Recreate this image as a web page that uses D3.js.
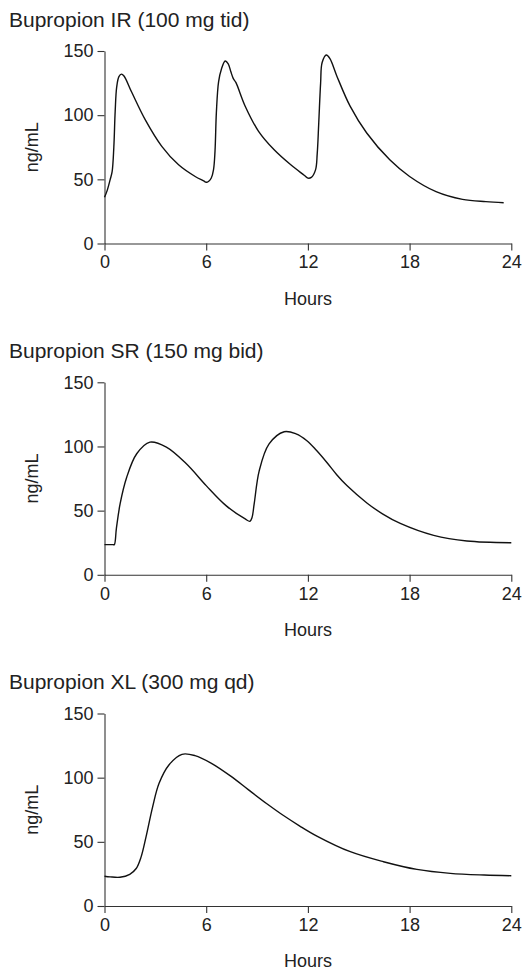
<!DOCTYPE html>
<html>
<head>
<meta charset="utf-8">
<script src="https://cdn.jsdelivr.net/npm/d3@7"></script>
<style>
  body { margin: 0; background: #fff; }
  svg { display: block; font-family: "Liberation Sans", Arial, Helvetica, sans-serif; }
  .tick text { font-size: 18px; fill: #222; }
  .domain, .tick line { stroke: #333; stroke-width: 1.1; }
</style>
</head>
<body>
<div id="chart"></div>
<script>
// hours / ng/mL
var irHours = [0, 0.15, 0.33, 0.45, 0.55, 0.63, 0.72, 0.85, 1.0, 1.15, 1.6, 2.4, 3.38, 4.37, 5.35, 5.85, 6.0, 6.15, 6.3, 6.43, 6.52, 6.6, 6.73, 6.9, 7.12, 7.3, 7.45, 7.6, 7.75, 8.3, 9.09, 10.01, 10.99, 11.8, 12.0, 12.2, 12.45, 12.55, 12.64, 12.75, 12.84, 13.09, 13.3, 13.71, 14.49, 15.47, 16.83, 18.0, 19.56, 21.12, 22.5, 23.55];
var irConc  = [36, 41, 49.6, 56, 75, 103, 122, 130, 132, 130.5, 118, 96.5, 75.7, 61.3, 52.2, 48.8, 47.7, 48.5, 51, 57.4, 72, 102, 126, 136, 142.2, 140, 134, 128.5, 125.5, 107, 87.4, 73, 61.3, 53, 50.9, 51.5, 57.4, 70, 93.9, 125, 141, 146.9, 144, 130.4, 107, 86.1, 65.2, 52.2, 40.4, 34.4, 32.6, 31.8];

var srHours = [0, 0.5, 0.58, 0.7, 0.92, 1.31, 1.9, 2.68, 3.65, 4.83, 6.0, 7.17, 8.3, 8.58, 8.7, 8.83, 9.13, 9.71, 10.6, 11.3, 11.94, 12.5, 13.12, 13.7, 14.3, 15.48, 16.4, 17.45, 19.42, 21.38, 24];
var srConc  = [23.5, 23.5, 23.5, 36, 55.2, 76, 94.3, 103.4, 99.5, 86.5, 69.5, 53.9, 43.5, 41.7, 44.5, 55.2, 81.2, 102, 111.5, 109.8, 104.5, 97, 87.5, 78, 69.5, 56, 47.5, 40, 30.7, 26.3, 25];

var xlHours = [0, 0.33, 0.91, 1.49, 1.87, 2.16, 2.45, 2.84, 3.22, 3.8, 4.57, 5.34, 6.31, 7.47, 8.5, 9.6, 10.56, 11.5, 12.53, 14.5, 16.46, 18.43, 20.4, 22.4, 24];
var xlConc  = [23.2, 22.7, 22.4, 24.7, 29.2, 38.3, 53.9, 77.3, 95.6, 109.9, 118.2, 117.2, 111.2, 101, 90.5, 79.5, 70.5, 62.5, 54.5, 42.3, 34.5, 28.5, 25.4, 24.1, 23.6];

var titles = ["Bupropion IR (100 mg tid)", "Bupropion SR (150 mg bid)", "Bupropion XL (300 mg qd)"];
var xTicks = [0, 6, 12, 18, 24];
var yTicks = [0, 50, 100, 150];

var width = 528, height = 971;
var panelTop = [51, 382.3, 713.5];
var plotH = 192.5;
var left = 104.5, right = 511.3;

var svg = d3.select("#chart").append("svg")
    .attr("width", width)
    .attr("height", height);

var x = d3.scaleLinear().domain([0, 24]).range([left, right]);

var series = [
  d3.zip(irHours, irConc),
  d3.zip(srHours, srConc),
  d3.zip(xlHours, xlConc)
];

series.forEach(function(pts, i) {
  var top = panelTop[i];
  var y = d3.scaleLinear().domain([0, 150]).range([top + plotH, top]);

  var g = svg.append("g");

  g.append("text")
      .attr("x", 9)
      .attr("y", top - 24.5)
      .attr("font-size", 21)
      .attr("fill", "#222")
      .text(titles[i]);

  g.append("g")
      .attr("transform", "translate(0," + (top + plotH) + ")")
      .call(d3.axisBottom(x).tickValues(xTicks).tickSize(7).tickSizeOuter(0).tickPadding(5));

  g.append("g")
      .attr("transform", "translate(" + left + ",0)")
      .call(d3.axisLeft(y).tickValues(yTicks).tickSize(7).tickSizeOuter(0).tickPadding(4));

  g.selectAll(".tick text").attr("font-size", null).attr("font-family", null);

  g.append("text")
      .attr("transform", "translate(38," + (top + plotH / 2) + ") rotate(-90)")
      .attr("text-anchor", "middle")
      .attr("font-size", 18)
      .attr("fill", "#222")
      .text("ng/mL");

  g.append("text")
      .attr("x", (left + right) / 2)
      .attr("y", top + plotH + 61)
      .attr("text-anchor", "middle")
      .attr("font-size", 18)
      .attr("fill", "#222")
      .text("Hours");

  var line = d3.line()
      .x(function(d) { return x(d[0]); })
      .y(function(d) { return y(d[1]); })
      .curve(d3.curveCatmullRom.alpha(0.5));

  g.append("path")
      .datum(pts)
      .attr("fill", "none")
      .attr("stroke", "#111")
      .attr("stroke-width", 1.4)
      .attr("d", line);
});
</script>
</body>
</html>
